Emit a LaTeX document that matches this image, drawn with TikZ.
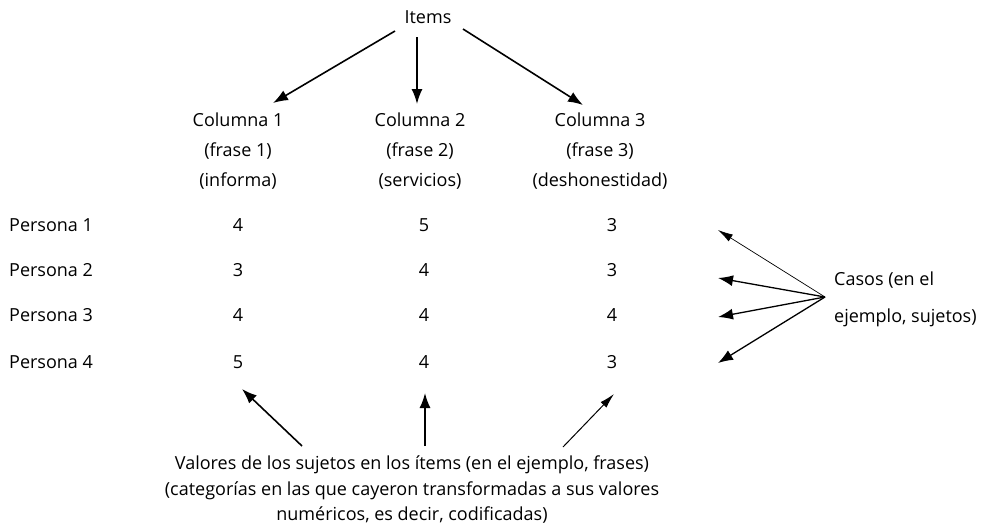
\documentclass[tikz,border=0pt]{standalone}
\usepackage{fontspec}
\setmainfont{Open Sans}
\usetikzlibrary{arrows.meta}
\begin{document}
\begin{tikzpicture}[x=1pt,y=-1pt,
  txt/.style={font=\fontsize{18}{30}\selectfont, inner sep=1pt, align=center},
  arr/.style={-{Latex[length=15pt,width=11pt]}, line width=1.6pt},
  thinarr/.style={-{Latex[length=15pt,width=8pt]}, line width=0.7pt}]
\useasboundingbox (0,0) rectangle (988,531);
\node[txt] (items) at (428,17) {Items};
\coordinate (i1s) at (395,31);
\coordinate (i2s) at (417,37);
\coordinate (i3s) at (463,29);
\coordinate (c1t) at (273,103);
\coordinate (c2t) at (417,104);
\coordinate (c3t) at (583,105);
\node[txt] (c1) at (238,151) {Columna 1\\(frase 1)\\(informa)};
\node[txt] (c2) at (420,151) {Columna 2\\(frase 2)\\(servicios)};
\node[txt] (c3) at (600,151) {Columna 3\\(frase 3)\\(deshonestidad)};
\draw[arr] (i1s) -- (c1t);
\draw[arr] (i2s) -- (c2t);
\draw[arr] (i3s) -- (c3t);
% rows
\foreach \r/\y/\a/\b/\c in {1/225/4/5/3, 2/270/3/4/3, 3/315/4/4/4, 4/362/5/4/3}{
  \node[txt, anchor=west] (p\r) at (8,\y) {Persona \r};
  \node[txt] (v\r a) at (238,\y) {\a};
  \node[txt] (v\r b) at (424,\y) {\b};
  \node[txt] (v\r c) at (612,\y) {\c};
}
\node[txt, font=\fontsize{18}{37}\selectfont, align=left, anchor=west] (casos) at (833,299) {Casos (en el\\ejemplo, sujetos)};
\coordinate (hub) at (825,297);
\coordinate (k1) at (718,230);
\coordinate (k2) at (718,278);
\coordinate (k3) at (718,317);
\coordinate (k4) at (718,363);
\draw[thinarr] (hub) -- (k1);
\draw[arr, line width=1.3pt] (hub) -- (k2);
\draw[arr, line width=1.3pt] (hub) -- (k3);
\draw[arr, line width=1.3pt] (hub) -- (k4);
\node[txt, font=\fontsize{18}{25.5}\selectfont] (val) at (412,490) {Valores de los sujetos en los ítems (en el ejemplo, frases)\\(categorías en las que cayeron transformadas a sus valores\\numéricos, es decir, codificadas)};
\coordinate (b1s) at (302,446);
\coordinate (b2s) at (425,446);
\coordinate (b3s) at (563,447);
\coordinate (b1t) at (242,389);
\coordinate (b2t) at (425,393);
\coordinate (b3t) at (614,394);
\draw[arr] (b1s) -- (b1t);
\draw[arr] (b2s) -- (b2t);
\draw[thinarr, line width=1pt] (b3s) -- (b3t);
\end{tikzpicture}
\end{document}
